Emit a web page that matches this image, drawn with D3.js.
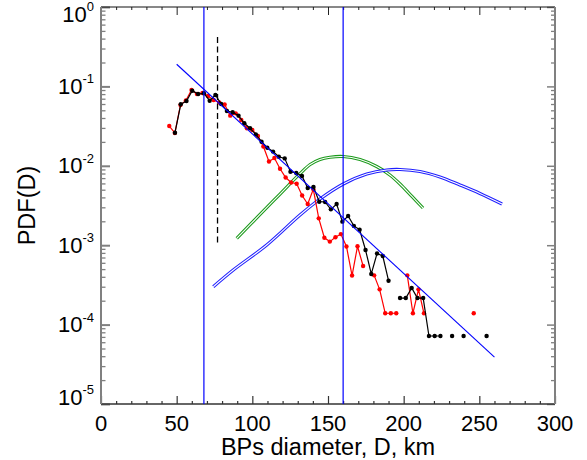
<!DOCTYPE html>
<html><head><meta charset="utf-8">
<script src="https://cdn.jsdelivr.net/npm/d3@7"></script>
<style>
body{margin:0;background:#fff}
svg{display:block}
text{font-family:"Liberation Sans",Arial,Helvetica,sans-serif;fill:#000}
</style>
</head><body>
<svg id="c" width="587" height="460"></svg>
<script>
// ---------------- data ----------------
const blackD = [48.9,52.7,56.5,60.3,64.2,68.0,71.8,75.6,79.4,83.2,87.0,90.9,94.7,98.5,102.3,106.1,109.9,113.7,117.5,121.4,
  125.2,129.0,132.8,136.6,140.4,144.2,148.1,151.9,155.7,159.5,163.3,167.1,170.9,174.8,178.6,182.4,186.2,190.0,193.8,197.6,
  201.4,205.3,209.1,212.9,216.7,220.5,224.3,228.1,232.0,235.8,239.6,243.4,247.2,251.0,254.8];
const blackP = [0.0261,0.0595,0.0655,0.0883,0.0802,0.0819,0.0661,0.0779,0.0600,0.0490,0.0472,0.0428,0.0343,0.0297,0.0249,0.0201,0.0169,0.0151,0.0130,0.0124,
  0.00843,0.00812,0.00744,0.00525,0.00541,0.00353,0.00350,0.00283,0.00330,0.00198,0.00233,0.00175,0.00157,0.00087,0.000434,0.000786,0.000731,0.000357,null,0.000216,
  0.000216,0.000289,0.000216,0.000216,0.0000718,0.0000718,0.0000718,null,0.0000718,null,0.0000718,null,null,null,0.0000718];

const redD = [45.1,48.8,52.5,56.1,59.8,63.4,67.1,70.7,74.4,78.1,81.7,85.4,89.0,92.7,96.4,100.0,103.7,107.3,111.0,114.6,
  118.3,122.0,125.6,129.3,132.9,136.6,140.3,143.9,147.6,151.2,154.9,158.5,162.2,165.9,169.5,173.2,176.8,180.5,184.1,187.8,
  191.5,195.1,198.8,202.4,206.1,209.8,213.4,217.1,220.7,224.4,228.1,231.7,235.4,239.0,242.7,246.3];
const redP = [0.0317,0.0259,0.0583,0.0665,0.0901,0.0802,0.0826,0.0757,0.0674,0.0627,0.0592,0.0428,0.0458,0.0377,0.0297,0.0282,0.0237,0.0175,0.01133,0.01254,
  0.00917,0.00712,0.00616,0.00595,0.00423,0.00330,0.00506,0.00218,0.00124,0.00111,0.00126,0.00138,0.000963,0.000415,0.000969,0.000547,null,0.000417,0.000278,0.000139,
  0.000139,0.000139,null,0.000417,0.000139,0.000278,0.000139,null,null,null,null,null,null,null,null,0.000139];

const greenD = [89.7,105.1,118.3,131.5,138.2,144.7,151.3,159.9,171.2,182.2,190.9,197.6,205.5,212.8];
const greenP = [0.00122,0.00244,0.00441,0.00795,0.01038,0.0120,0.0128,0.0131,0.0120,0.00980,0.00766,0.00590,0.00411,0.00294];

const blueD = [74.2,87.4,109.5,131.5,144.7,160.1,175.6,188.8,197.6,210.8,224.0,237.2,250.4,265.0];
const blueP = [0.000300,0.000487,0.001006,0.00240,0.00382,0.00590,0.00788,0.00885,0.00898,0.00848,0.00723,0.00573,0.00448,0.00330];

const fitD = [50, 260];
const fitP = [0.19, 0.000039];

const vLinesD = [68, 160];
const dashD = 77;
const dashP = [0.001, 0.42];

const xTicks = [0, 50, 100, 150, 200, 250, 300];
const xTickLabels = ["0", "50", "100", "150", "200", "250", "300"];
const yTicks = [1, 0.1, 0.01, 0.001, 0.0001, 0.00001];
const yTickExps = ["0", "-1", "-2", "-3", "-4", "-5"];
const xTitle = "BPs diameter, D, km";
const yTitle = "PDF(D)";

// ---------------- chart ----------------
const X0 = 101, X1 = 555, Y0 = 404, Y1 = 7;
const svg = d3.select("#c");
const x = d3.scaleLinear().domain([0, 300]).range([X0, X1]);
const y = d3.scaleLog().domain([1e-5, 1]).range([Y0, Y1]);

const xMinor = d3.range(0, 301, 10).filter(v => v % 50 !== 0);
const yMinor = [];
for (let k = -5; k < 0; k++) for (let m = 2; m <= 9; m++) yMinor.push(m * Math.pow(10, k));

function styleAxis(g, color, w) {
  g.select(".domain").remove();
  g.selectAll(".tick line").attr("stroke", color).attr("stroke-width", w);
  g.selectAll(".tick text").remove();
}
// bottom
svg.append("g").attr("transform", `translate(0,${Y0})`)
  .call(d3.axisBottom(x).tickValues(xMinor).tickSize(-3).tickSizeOuter(0)).call(g => styleAxis(g, "#333", 1.2));
svg.append("g").attr("transform", `translate(0,${Y0})`)
  .call(d3.axisBottom(x).tickValues(xTicks).tickSize(-8).tickSizeOuter(0)).call(g => styleAxis(g, "#333", 1.2));
// top
svg.append("g").attr("transform", `translate(0,${Y1})`)
  .call(d3.axisTop(x).tickValues(xMinor).tickSize(-3).tickSizeOuter(0)).call(g => styleAxis(g, "#222", 1));
svg.append("g").attr("transform", `translate(0,${Y1})`)
  .call(d3.axisTop(x).tickValues(xTicks).tickSize(-8).tickSizeOuter(0)).call(g => styleAxis(g, "#222", 1));
// left
svg.append("g").attr("transform", `translate(${X0},0)`)
  .call(d3.axisLeft(y).tickValues(yMinor).tickSize(-4.5).tickSizeOuter(0)).call(g => styleAxis(g, "#808080", 1.3));
svg.append("g").attr("transform", `translate(${X0},0)`)
  .call(d3.axisLeft(y).tickValues(yTicks).tickSize(-9).tickSizeOuter(0)).call(g => styleAxis(g, "#808080", 2));
// right
svg.append("g").attr("transform", `translate(${X1},0)`)
  .call(d3.axisRight(y).tickValues(yMinor).tickSize(-4).tickSizeOuter(0)).call(g => styleAxis(g, "#808080", 1.3));
svg.append("g").attr("transform", `translate(${X1},0)`)
  .call(d3.axisRight(y).tickValues(yTicks).tickSize(-8).tickSizeOuter(0)).call(g => styleAxis(g, "#808080", 1.5));

// frame lines
svg.append("line").attr("x1", X0).attr("x2", X1).attr("y1", Y0).attr("y2", Y0).attr("stroke", "#333").attr("stroke-width", 1.5);
svg.append("line").attr("x1", X0).attr("x2", X1).attr("y1", Y1).attr("y2", Y1).attr("stroke", "#111").attr("stroke-width", 1);
svg.append("line").attr("x1", X0).attr("x2", X0).attr("y1", Y1).attr("y2", Y0).attr("stroke", "#808080").attr("stroke-width", 2);
svg.append("line").attr("x1", X1).attr("x2", X1).attr("y1", Y1).attr("y2", Y0).attr("stroke", "#808080").attr("stroke-width", 2);

// tick labels
svg.append("g").selectAll("text").data(xTicks).join("text")
  .attr("x", d => x(d)).attr("y", 431).attr("text-anchor", "middle").attr("font-size", 22)
  .text((d, i) => xTickLabels[i]);

const labelNudge = [14.5, 7.5, 7.5, 7.5, 7.5, 0.5];
const yl = svg.append("g").selectAll("text").data(yTicks).join("text")
  .attr("x", 94).attr("y", (d, i) => y(d) + labelNudge[i]).attr("text-anchor", "end").attr("font-size", 22);
yl.append("tspan").text("10");
yl.append("tspan").attr("dy", -10.5).attr("font-size", 13).text((d, i) => yTickExps[i]);

svg.append("text").attr("x", (X0 + X1) / 2).attr("y", 455).attr("text-anchor", "middle").attr("font-size", 23.5).text(xTitle);
svg.append("text").attr("transform", `translate(35,${(Y0 + Y1) / 2}) rotate(-90)`).attr("text-anchor", "middle").attr("font-size", 23.5).text(yTitle);

// plot content
const plot = svg.append("g");
const toPts = (D, P) => D.map((d, i) => ({ d, p: P[i] }));
const line = d3.line().defined(o => o.p != null).x(o => x(o.d)).y(o => y(o.p));
const smooth = d3.line().x(o => x(o.d)).y(o => y(o.p)).curve(d3.curveCatmullRom.alpha(0.5));

// double-line curves
[[greenD, greenP, "#1a9a1a"], [blueD, blueP, "#2020ff"]].forEach(([D, P, c]) => {
  const pts = toPts(D, P);
  plot.append("path").attr("d", smooth(pts)).attr("fill", "none").attr("stroke", c).attr("stroke-width", 3.2);
  plot.append("path").attr("d", smooth(pts)).attr("fill", "none").attr("stroke", "#fff").attr("stroke-width", 1.1);
});

// red series
const redPts = toPts(redD, redP);
plot.append("path").attr("d", line(redPts)).attr("fill", "none").attr("stroke", "#ff0000").attr("stroke-width", 1.2);
plot.append("g").selectAll("circle").data(redPts.filter(o => o.p != null)).join("circle")
  .attr("cx", o => x(o.d)).attr("cy", o => y(o.p)).attr("r", 2.2).attr("fill", "#ff0000");

// black series
const blackPts = toPts(blackD, blackP);
plot.append("path").attr("d", line(blackPts)).attr("fill", "none").attr("stroke", "#000").attr("stroke-width", 1.2);
plot.append("g").selectAll("circle").data(blackPts.filter(o => o.p != null)).join("circle")
  .attr("cx", o => x(o.d)).attr("cy", o => y(o.p)).attr("r", 2.2).attr("fill", "#000");

// fit line
plot.append("path").attr("d", line(toPts(fitD, fitP))).attr("fill", "none").attr("stroke", "#0000ff").attr("stroke-width", 1.1);

// vertical lines
plot.selectAll(".vl").data(vLinesD).join("line").attr("class", "vl")
  .attr("x1", d => x(d)).attr("x2", d => x(d)).attr("y1", Y1).attr("y2", Y0)
  .attr("stroke", "#0000ff").attr("stroke-width", 1.2);
plot.append("line").attr("x1", x(dashD)).attr("x2", x(dashD)).attr("y1", y(dashP[1])).attr("y2", y(dashP[0]))
  .attr("stroke", "#000").attr("stroke-width", 1.3).attr("stroke-dasharray", "6,3.5");
</script>
</body></html>
